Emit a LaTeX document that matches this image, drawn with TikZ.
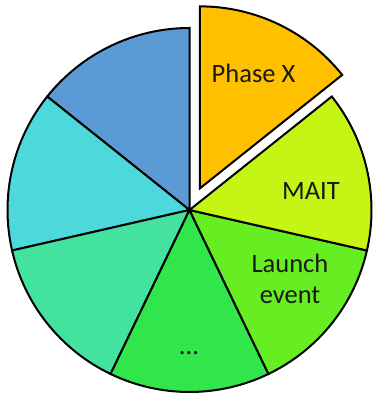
\documentclass[tikz,border=0pt]{standalone}
\usepackage{fontspec}
\setmainfont{Carlito}
\usetikzlibrary{calc}
\definecolor{cBlue}{HTML}{5B9BD5}
\definecolor{cCyan}{HTML}{4DD9DB}
\definecolor{cTeal}{HTML}{43E29E}
\definecolor{cGreen}{HTML}{30E64A}
\definecolor{cLGreen}{HTML}{66EE22}
\definecolor{cYGreen}{HTML}{C5F515}
\definecolor{cOrange}{HTML}{FFC000}
\newcommand{\pieslice}[4]{%
  \filldraw[slice,fill=#1] (#4) -- ++(#2:182pt) arc[start angle=#2,end angle=#3,radius=182pt] -- cycle;}
\begin{document}
\begin{tikzpicture}[x=1pt,y=1pt,
  slice/.style={draw=black,line width=2pt,line join=miter},
  lbl/.style={font=\fontsize{26.5}{31}\selectfont,text=black!90,align=center,inner sep=0pt}]
\useasboundingbox (0,0) rectangle (373,393);
\coordinate (c) at (189.5,183);
\coordinate (cx) at ($(c)+(64.29:24pt)$);
\pieslice{cBlue}{90}{141.43}{c}
\pieslice{cCyan}{141.43}{192.86}{c}
\pieslice{cTeal}{192.86}{244.29}{c}
\pieslice{cGreen}{244.29}{295.71}{c}
\pieslice{cLGreen}{295.71}{347.14}{c}
\pieslice{cYGreen}{347.14}{398.57}{c}
\pieslice{cOrange}{38.57}{90}{cx}
\node[lbl] (phase) at (253.5,320) {Phase X};
\node[lbl] (mait) at (311,202) {MAIT};
\node[lbl] (launch) at (290,114) {Launch\\event};
\node[lbl] (dots) at (189,40) {...};
\end{tikzpicture}
\end{document}
